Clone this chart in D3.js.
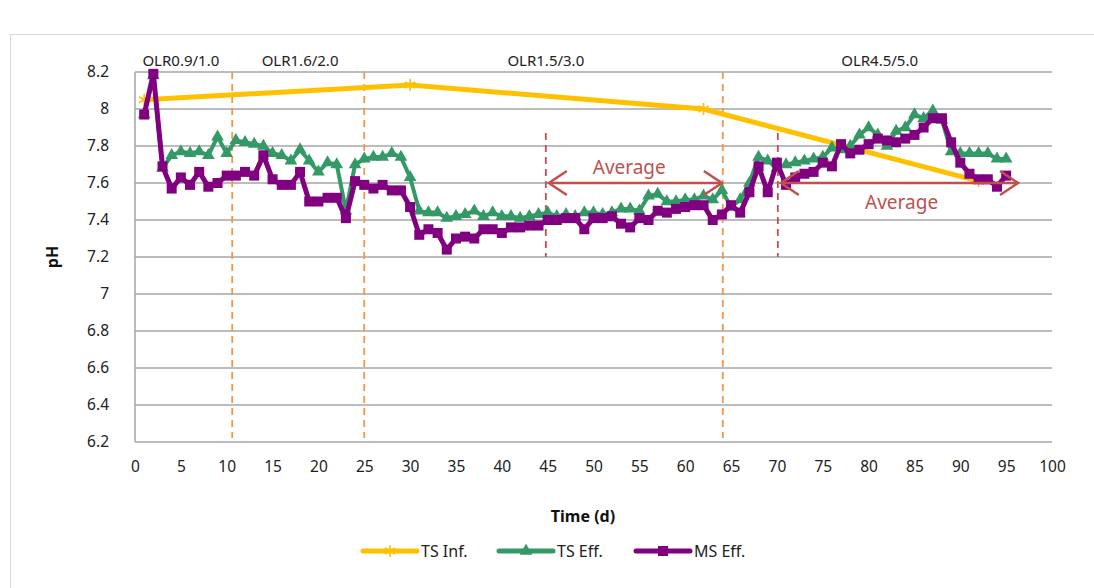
<!DOCTYPE html>
<html><head><meta charset="utf-8">
<script src="https://cdn.jsdelivr.net/npm/d3@7"></script>
<style>
body{margin:0;background:#fff;}
text{font-family:"Noto Sans","Open Sans",sans-serif;}
</style></head>
<body><svg id="c" width="1094" height="588"></svg>
<script>
const days = d3.range(1, 96);
const tsInfDays = [1, 30, 62, 92];
const tsInf = [8.05, 8.13, 8.00, 7.61];
const tsEff = [7.97,8.18,7.68,7.75,7.77,7.76,7.77,7.75,7.85,7.76,
  7.83,7.82,7.81,7.80,7.76,7.75,7.72,7.78,7.72,7.66,
  7.71,7.70,7.45,7.70,7.73,7.74,7.74,7.76,7.74,7.63,
  7.45,7.44,7.44,7.41,7.42,7.43,7.45,7.42,7.44,7.42,
  7.42,7.41,7.42,7.43,7.44,7.42,7.43,7.42,7.44,7.44,
  7.43,7.44,7.46,7.46,7.45,7.53,7.54,7.50,7.50,7.51,
  7.51,7.53,7.51,7.56,7.47,7.51,7.60,7.74,7.72,7.68,
  7.70,7.71,7.72,7.73,7.74,7.79,7.78,7.80,7.86,7.90,
  7.86,7.80,7.88,7.90,7.97,7.95,7.99,7.94,7.77,7.76,
  7.76,7.76,7.76,7.73,7.73];
const msEff = [7.97,8.19,7.69,7.57,7.63,7.59,7.66,7.58,7.60,7.64,
  7.64,7.66,7.64,7.75,7.62,7.59,7.59,7.66,7.50,7.50,
  7.52,7.52,7.41,7.61,7.59,7.57,7.59,7.56,7.56,7.47,
  7.32,7.35,7.33,7.24,7.30,7.31,7.30,7.35,7.35,7.33,
  7.36,7.36,7.37,7.37,7.40,7.40,7.41,7.41,7.35,7.41,
  7.41,7.42,7.38,7.36,7.41,7.40,7.45,7.44,7.46,7.47,
  7.48,7.48,7.40,7.43,7.48,7.44,7.55,7.69,7.55,7.71,
  7.59,7.63,7.65,7.66,7.71,7.69,7.81,7.76,7.78,7.81,
  7.84,7.83,7.82,7.84,7.86,7.90,7.95,7.95,7.82,7.71,
  7.65,7.62,7.62,7.58,7.64];
const xTicks = d3.range(0, 101, 5);
const yTicks = [6.2,6.4,6.6,6.8,7,7.2,7.4,7.6,7.8,8,8.2];
const phaseLines = [10.6, 25, 64.1];
const avgLines = [44.8, 70.1];
const phaseLabels = [{t:"OLR0.9/1.0", d:5}, {t:"OLR1.6/2.0", d:18}, {t:"OLR1.5/3.0", d:44.8}, {t:"OLR4.5/5.0", d:81.2}];
const avgArrows = [{from:44.8, to:64.0, v:7.6, label:7.65, ld:53.9}, {from:70.1, to:96.3, v:7.6, label:7.46, ld:83.6}];

const svg = d3.select("#c");
const x = d3.scaleLinear().domain([0,100]).range([135,1052]);
const y = d3.scaleLinear().domain([6.2,8.2]).range([442,72]);

svg.append("rect").attr("x",10.5).attr("y",34.5).attr("width",1100).attr("height",600)
  .attr("fill","none").attr("stroke","#d9d9d9");

// grid
svg.append("g").selectAll("line").data(yTicks).join("line")
  .attr("x1",x(0)).attr("x2",x(100)).attr("y1",d=>y(d)).attr("y2",d=>y(d))
  .attr("stroke","#a6a6a6").attr("stroke-width",1.5);
svg.append("line").attr("x1",x(0)).attr("x2",x(0)).attr("y1",y(8.2)).attr("y2",y(6.2))
  .attr("stroke","#a6a6a6").attr("stroke-width",1.5);

// axes labels
const xa = d3.axisBottom(x).tickValues(xTicks).tickSize(0).tickPadding(19);
svg.append("g").attr("transform",`translate(0,${y(6.2)})`).call(xa)
  .call(g=>g.select(".domain").remove())
  .selectAll("text").attr("font-size",15.5).attr("fill","#222").style("font-family","'Noto Sans',sans-serif");
const ya = d3.axisLeft(y).tickValues(yTicks).tickSize(0).tickPadding(26).tickFormat(d3.format("~g"));
svg.append("g").attr("transform",`translate(${x(0)},0)`).call(ya)
  .call(g=>g.select(".domain").remove())
  .selectAll("text").attr("font-size",15.5).attr("fill","#222").style("font-family","'Noto Sans',sans-serif");

svg.append("text").attr("x",583).attr("y",522).attr("text-anchor","middle")
  .attr("font-size",16).attr("font-weight","bold").attr("fill","#111").text("Time (d)");
svg.append("text").attr("transform","translate(58,257) rotate(-90)").attr("text-anchor","middle")
  .attr("font-size",16).attr("font-weight","bold").attr("fill","#111").text("pH");

// phase lines
svg.append("g").selectAll("line").data(phaseLines).join("line")
  .attr("x1",d=>x(d)).attr("x2",d=>x(d)).attr("y1",y(8.2)).attr("y2",y(6.2)-4)
  .attr("stroke","#F79646").attr("stroke-width",1.8).attr("stroke-dasharray","7,5");
svg.append("g").selectAll("line").data(avgLines).join("line")
  .attr("x1",d=>x(d)).attr("x2",d=>x(d)).attr("y1",y(7.87)).attr("y2",y(7.2))
  .attr("stroke","#C0504D").attr("stroke-width",1.8).attr("stroke-dasharray","7,5");

svg.append("g").selectAll("text").data(phaseLabels).join("text")
  .attr("x",d=>x(d.d)).attr("y",66).attr("text-anchor","middle")
  .attr("font-size",15).attr("fill","#222").text(d=>d.t);

// series
const lineG = d3.line().x((d,i)=>x(days[i])).y(d=>y(d));
svg.append("path").datum(tsInf).attr("fill","none").attr("stroke","#FFC000").attr("stroke-width",5)
  .attr("d", d3.line().x((d,i)=>x(tsInfDays[i])).y(d=>y(d)));
const star = (g, cx, cy, r, col) => {
  [0,60,120].forEach(a=>{
    const rad=a*Math.PI/180;
    g.append("line").attr("x1",cx-r*Math.sin(rad)).attr("y1",cy-r*Math.cos(rad))
     .attr("x2",cx+r*Math.sin(rad)).attr("y2",cy+r*Math.cos(rad))
     .attr("stroke",col).attr("stroke-width",1.6);
  });
};
const sg = svg.append("g");
tsInf.forEach((v,i)=>star(sg, x(tsInfDays[i]), y(v), 6, "#FFC000"));

svg.append("path").datum(tsEff).attr("fill","none").attr("stroke","#339966").attr("stroke-width",4)
  .attr("stroke-linejoin","round").attr("d",lineG);
svg.append("g").selectAll("path").data(tsEff).join("path")
  .attr("transform",(d,i)=>`translate(${x(days[i])},${y(d)})`)
  .attr("d",d3.symbol(d3.symbolTriangle, 70)).attr("fill","#339966");

svg.append("path").datum(msEff).attr("fill","none").attr("stroke","#800080").attr("stroke-width",5)
  .attr("stroke-linejoin","round").attr("d",lineG);
svg.append("g").selectAll("rect").data(msEff).join("rect")
  .attr("x",(d,i)=>x(days[i])-5).attr("y",d=>y(d)-5).attr("width",10).attr("height",10)
  .attr("fill","#800080");

// average arrows
const ag = svg.append("g").attr("stroke","#C0504D").attr("stroke-width",2.5).attr("fill","none");
avgArrows.forEach(a=>{
  const x1=x(a.from)+3, x2=x(a.to), yy=y(a.v);
  ag.append("line").attr("x1",x1).attr("x2",x2).attr("y1",yy).attr("y2",yy);
  ag.append("path").attr("d",`M${x1+18},${yy-12} L${x1},${yy} L${x1+18},${yy+12}`);
  ag.append("path").attr("d",`M${x2-18},${yy-12} L${x2},${yy} L${x2-18},${yy+12}`);
  svg.append("text").attr("x",x(a.ld)).attr("y",y(a.label)).attr("text-anchor","middle")
    .attr("font-size",19).attr("fill","#C0504D").text("Average");
});

// legend
const legend = [{n:"TS Inf.", c:"#FFC000", m:"star", x:363},{n:"TS Eff.", c:"#339966", m:"tri", x:499},{n:"MS Eff.", c:"#800080", m:"sq", x:636}];
const lg = svg.append("g");
legend.forEach(l=>{
  const yy=551;
  lg.append("line").attr("x1",l.x).attr("x2",l.x+54).attr("y1",yy).attr("y2",yy)
    .attr("stroke",l.c).attr("stroke-width",5).attr("stroke-linecap","round");
  const cx=l.x+27;
  if(l.m==="star") star(lg,cx,yy,6,l.c);
  if(l.m==="tri") lg.append("path").attr("transform",`translate(${cx},${yy})`).attr("d",d3.symbol(d3.symbolTriangle,70)).attr("fill",l.c);
  if(l.m==="sq") lg.append("rect").attr("x",cx-5).attr("y",yy-5).attr("width",10).attr("height",10).attr("fill",l.c);
  lg.append("text").attr("x",l.x+58).attr("y",yy+6).attr("font-size",16).attr("fill","#222").text(l.n);
});
</script></body></html>
